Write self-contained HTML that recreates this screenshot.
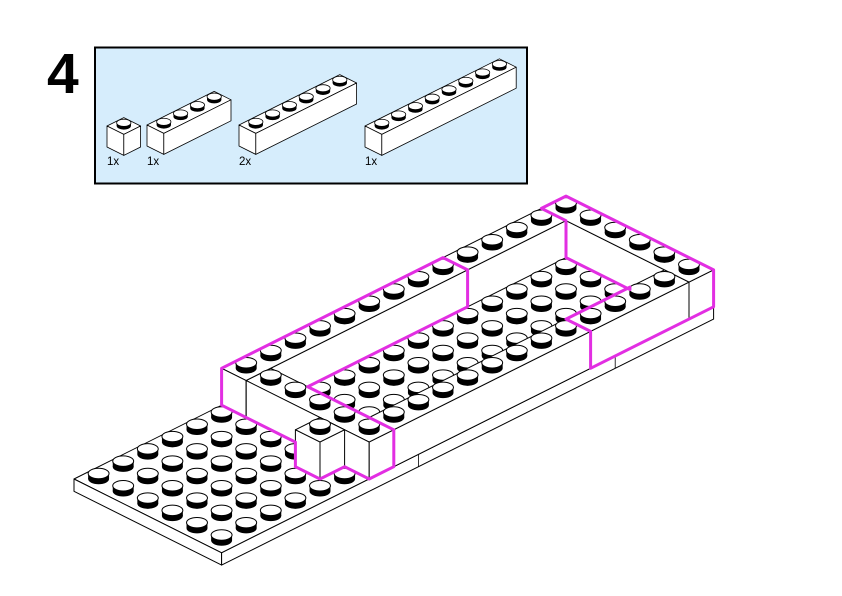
<!DOCTYPE html>
<html><head><meta charset="utf-8"><style>
html,body{margin:0;padding:0;background:#fff;width:842px;height:596px;overflow:hidden}
svg{display:block}
</style></head><body>
<svg id="s" xmlns="http://www.w3.org/2000/svg" width="842" height="596" viewBox="0 0 842 596">
<rect x="0" y="0" width="842" height="596" fill="#fff"/>
<text x="47" y="93" font-family="Liberation Sans, Arial, sans-serif" font-weight="bold" font-size="57" fill="#000">4</text>
<rect x="95" y="47.5" width="432" height="136" fill="#d6edfc" stroke="#000" stroke-width="2"/>
<g font-family="Liberation Sans, Arial, sans-serif" font-size="11.5" fill="#000">
<text x="107" y="165">1x</text>
<text x="147" y="165">1x</text>
<text x="239" y="165">2x</text>
<text x="365" y="165">1x</text>
</g>
<g id="g"></g>
</svg>
<script>
(function(){
const out=[];
function mk(o,ux,uy,h){return (i,j,z)=>[o[0]+ux*(i+j), o[1]+uy*(j-i)-h*z];}
function pts(a){return a.map(p=>p[0].toFixed(2)+','+p[1].toFixed(2)).join(' ');}
function behind(A,B){const e=1e-6;
 if(A.i0>=B.i1-e)return 1; if(B.i0>=A.i1-e)return -1;
 if(A.j1<=B.j0+e)return 1; if(B.j1<=A.j0+e)return -1;
 if(A.z1<=B.z0+e)return 1; if(B.z1<=A.z0+e)return -1; return 0;}
function render(P,ux,uy,h,boxes,sw){
 const items=[];
 for(const b of boxes){items.push({i0:b[0],i1:b[1],j0:b[2],j1:b[3],z0:b[4],z1:b[5],t:'b'});}
 const bx=items.slice();
 for(const b of bx){
  for(let i=b.i0;i<b.i1;i++)for(let j=b.j0;j<b.j1;j++){
   if(bx.some(c=>c!==b&&Math.abs(c.z0-b.z1)<1e-6&&c.i0<=i&&i<c.i1&&c.j0<=j&&j<c.j1))continue;
   items.push({i0:i+.1,i1:i+.9,j0:j+.1,j1:j+.9,z0:b.z1,z1:b.z1+.45,t:'s',ci:i,cj:j,cz:b.z1});
  }
 }
 for(const it of items){
  const c=[];for(const i of[it.i0,it.i1])for(const j of[it.j0,it.j1])for(const z of[it.z0,it.z1])c.push(P(i,j,z));
  it.x0=Math.min(...c.map(p=>p[0]));it.x1=Math.max(...c.map(p=>p[0]));
  it.y0=Math.min(...c.map(p=>p[1]));it.y1=Math.max(...c.map(p=>p[1]));
 }
 const n=items.length,indeg=new Array(n).fill(0),adj=items.map(()=>[]);
 for(let a=0;a<n;a++)for(let b=a+1;b<n;b++){
  const A=items[a],B=items[b];
  if(A.x1<=B.x0+0.5||B.x1<=A.x0+0.5||A.y1<=B.y0+0.5||B.y1<=A.y0+0.5)continue;
  const r=behind(A,B);
  if(r===1){adj[a].push(b);indeg[b]++;}else if(r===-1){adj[b].push(a);indeg[a]++;}
 }
 const order=[],done=new Array(n).fill(false);let q=[];
 for(let k=0;k<n;k++)if(indeg[k]===0)q.push(k);
 while(q.length){const k=q.shift();order.push(k);done[k]=true;for(const m of adj[k]){if(--indeg[m]===0)q.push(m);}}
 for(let k=0;k<n;k++)if(!done[k])order.push(k);
 for(const k of order){
  const it=items[k];
  if(it.t==='b'){
   const {i0,i1,j0,j1,z0,z1}=it;
   const st=`fill="#fff" stroke="#000" stroke-width="${sw}" stroke-linejoin="round"`;
   out.push(`<polygon points="${pts([P(i0,j0,z1),P(i1,j0,z1),P(i1,j1,z1),P(i0,j1,z1)])}" ${st}/>`);
   out.push(`<polygon points="${pts([P(i0,j0,z1),P(i0,j1,z1),P(i0,j1,z0),P(i0,j0,z0)])}" ${st}/>`);
   out.push(`<polygon points="${pts([P(i0,j1,z1),P(i1,j1,z1),P(i1,j1,z0),P(i0,j1,z0)])}" ${st}/>`);
  }else{
   const c=P(it.ci+.5,it.cj+.5,it.cz);
   const rx=ux*0.425,ry=uy*0.425,sh=h*0.45;
   out.push(`<ellipse cx="${c[0].toFixed(2)}" cy="${c[1].toFixed(2)}" rx="${rx.toFixed(2)}" ry="${ry.toFixed(2)}" fill="#000"/>`);
   out.push(`<rect x="${(c[0]-rx).toFixed(2)}" y="${(c[1]-sh).toFixed(2)}" width="${(2*rx).toFixed(2)}" height="${sh.toFixed(2)}" fill="#000"/>`);
   out.push(`<ellipse cx="${c[0].toFixed(2)}" cy="${(c[1]-sh).toFixed(2)}" rx="${rx.toFixed(2)}" ry="${ry.toFixed(2)}" fill="#fff" stroke="#000" stroke-width="${sw}"/>`);
  }
 }
}
// panel bricks
const pu=16.8,pv=8.4,ph=7;
render(mk([107,147],pu,pv,ph),pu,pv,ph,[[0,1,0,1,0,3]],0.8);
render(mk([147,146],pu,pv,ph),pu,pv,ph,[[0,4,0,1,0,3]],0.8);
render(mk([239,146],pu,pv,ph),pu,pv,ph,[[0,6,0,1,0,3]],0.8);
render(mk([365,147],pu,pv,ph),pu,pv,ph,[[0,8,0,1,0,3]],0.8);
// main model
const ux=24.6,uy=12.3,hh=12.3;
const P=mk([74,479],ux,uy,hh);
render(P,ux,uy,hh,[
 [0,20,0,6,-1,0],
 [6,15,0,1,0,3],
 [15,19,0,1,0,3],
 [6,7,1,6,0,3],
 [5,6,4,5,0,3],
 [7,15,5,6,0,3],
 [15,19,5,6,0,3],
 [19,20,0,6,0,3]
],1);
// plate seams
for(const i of [8,16]){const a=P(i,6,0),b=P(i,6,-1);out.push(`<line x1="${a[0]}" y1="${a[1]}" x2="${b[0]}" y2="${b[1]}" stroke="#000" stroke-width="0.8"/>`);}
// magenta outlines
const m1=[P(6,0,3),P(15,0,3),P(15,1,3),P(15,1,0),P(8.5,1,0),P(7,2.5,3),P(7,6,3),P(7,6,0),P(6,6,0),P(6,5,0),P(5,5,0),P(5,4,0),P(6,3,0),P(6,0,0)];
const m2=[P(19,0,3),P(20,0,3),P(20,6,3),P(20,6,0),P(15,6,0),P(15,6,3),P(15,5,3),P(17.6,5,3),P(19,3.6,0),P(19,1,0),P(19,1,3),P(19,0,3)];
out.push(`<polygon points="${pts(m1)}" fill="none" stroke="#e22ee2" stroke-width="3" stroke-linejoin="round"/>`);
out.push(`<polygon points="${pts(m2)}" fill="none" stroke="#e22ee2" stroke-width="3" stroke-linejoin="round"/>`);
document.getElementById('g').innerHTML=out.join('');
})();
</script>
</body></html>
